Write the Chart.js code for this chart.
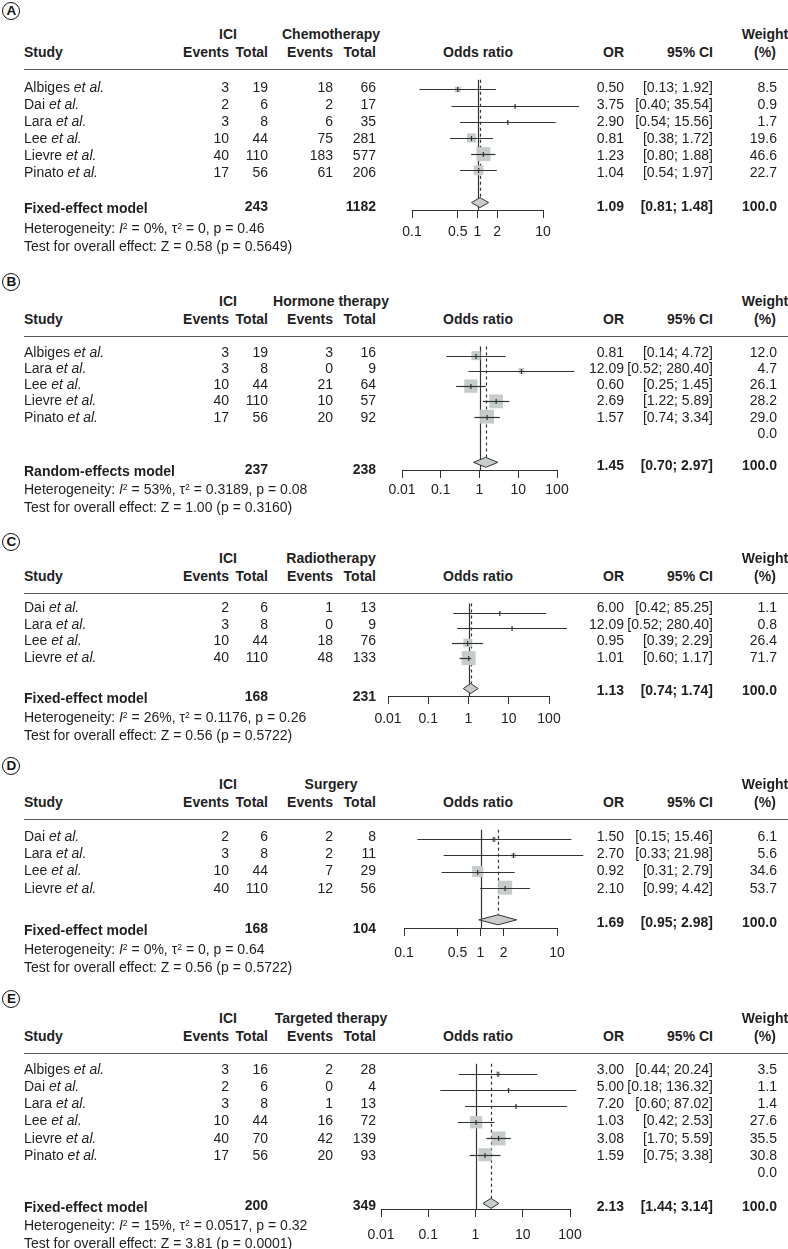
<!DOCTYPE html>
<html>
<head>
<meta charset="utf-8">
<script src="https://cdn.jsdelivr.net/npm/chart.js@4.4.1/dist/chart.umd.min.js"></script>
<style>
body { margin: 0; background: #fff; }
#page { position: relative; width: 788px; height: 1249px; overflow: hidden; font-family: "Liberation Sans", Arial, Helvetica, sans-serif; font-size: 14px; color: #1f1f1f; }
#page canvas { position: absolute; left: 0; }
.t { position: absolute; white-space: nowrap; line-height: 1; }
.b { font-weight: bold; }
.rule { position: absolute; left: 24px; right: 0; height: 0; border-top: 1.6px solid #5a5a5a; }
.tag { position: absolute; width: 16px; height: 16px; border: 1.6px solid #111; border-radius: 50%; font-weight: bold; font-size: 13.5px; line-height: 16px; text-align: center; color: #111; }
sup { font-size: 0.62em; position: relative; top: -0.45em; vertical-align: baseline; line-height: 0; }
</style>
</head>
<body>
<div id="page"></div>
<script>
// A: ICI vs chemotherapy
const chemoStudies = ['Albiges', 'Dai', 'Lara', 'Lee', 'Lievre', 'Pinato'];
const chemoIciEvents = [3, 2, 3, 10, 40, 17];
const chemoIciTotal = [19, 6, 8, 44, 110, 56];
const chemoCtrlEvents = [18, 2, 6, 75, 183, 61];
const chemoCtrlTotal = [66, 17, 35, 281, 577, 206];
const chemoOR = [0.50, 3.75, 2.90, 0.81, 1.23, 1.04];
const chemoLower = [0.13, 0.40, 0.54, 0.38, 0.80, 0.54];
const chemoUpper = [1.92, 35.54, 15.56, 1.72, 1.88, 1.97];
const chemoWeight = [8.5, 0.9, 1.7, 19.6, 46.6, 22.7];
const chemoPooled = [1.09, 0.81, 1.48];
const chemoTotals = [243, 1182];
const chemoHet = ['0%', '0', '0.46'];
const chemoTest = ['0.58', '0.5649'];
const chemoTicks = [0.1, 0.5, 1, 2, 10];

// B: ICI vs hormone therapy (last row is an empty study)
const hormoneStudies = ['Albiges', 'Lara', 'Lee', 'Lievre', 'Pinato', ''];
const hormoneIciEvents = [3, 3, 10, 40, 17, null];
const hormoneIciTotal = [19, 8, 44, 110, 56, null];
const hormoneCtrlEvents = [3, 0, 21, 10, 20, null];
const hormoneCtrlTotal = [16, 9, 64, 57, 92, null];
const hormoneOR = [0.81, 12.09, 0.60, 2.69, 1.57, null];
const hormoneLower = [0.14, 0.52, 0.25, 1.22, 0.74, null];
const hormoneUpper = [4.72, 280.40, 1.45, 5.89, 3.34, null];
const hormoneWeight = [12.0, 4.7, 26.1, 28.2, 29.0, 0.0];
const hormonePooled = [1.45, 0.70, 2.97];
const hormoneTotals = [237, 238];
const hormoneHet = ['53%', '0.3189', '0.08'];
const hormoneTest = ['1.00', '0.3160'];
const hormoneTicks = [0.01, 0.1, 1, 10, 100];

// C: ICI vs radiotherapy
const radioStudies = ['Dai', 'Lara', 'Lee', 'Lievre'];
const radioIciEvents = [2, 3, 10, 40];
const radioIciTotal = [6, 8, 44, 110];
const radioCtrlEvents = [1, 0, 18, 48];
const radioCtrlTotal = [13, 9, 76, 133];
const radioOR = [6.00, 12.09, 0.95, 1.01];
const radioLower = [0.42, 0.52, 0.39, 0.60];
const radioUpper = [85.25, 280.40, 2.29, 1.17];
const radioWeight = [1.1, 0.8, 26.4, 71.7];
const radioPooled = [1.13, 0.74, 1.74];
const radioTotals = [168, 231];
const radioHet = ['26%', '0.1176', '0.26'];
const radioTest = ['0.56', '0.5722'];
const radioTicks = [0.01, 0.1, 1, 10, 100];

// D: ICI vs surgery
const surgeryStudies = ['Dai', 'Lara', 'Lee', 'Lievre'];
const surgeryIciEvents = [2, 3, 10, 40];
const surgeryIciTotal = [6, 8, 44, 110];
const surgeryCtrlEvents = [2, 2, 7, 12];
const surgeryCtrlTotal = [8, 11, 29, 56];
const surgeryOR = [1.50, 2.70, 0.92, 2.10];
const surgeryLower = [0.15, 0.33, 0.31, 0.99];
const surgeryUpper = [15.46, 21.98, 2.79, 4.42];
const surgeryWeight = [6.1, 5.6, 34.6, 53.7];
const surgeryPooled = [1.69, 0.95, 2.98];
const surgeryTotals = [168, 104];
const surgeryHet = ['0%', '0', '0.64'];
const surgeryTest = ['0.56', '0.5722'];
const surgeryTicks = [0.1, 0.5, 1, 2, 10];

// E: ICI vs targeted therapy (last row is an empty study)
const targetedStudies = ['Albiges', 'Dai', 'Lara', 'Lee', 'Lievre', 'Pinato', ''];
const targetedIciEvents = [3, 2, 3, 10, 40, 17, null];
const targetedIciTotal = [16, 6, 8, 44, 70, 56, null];
const targetedCtrlEvents = [2, 0, 1, 16, 42, 20, null];
const targetedCtrlTotal = [28, 4, 13, 72, 139, 93, null];
const targetedOR = [3.00, 5.00, 7.20, 1.03, 3.08, 1.59, null];
const targetedLower = [0.44, 0.18, 0.60, 0.42, 1.70, 0.75, null];
const targetedUpper = [20.24, 136.32, 87.02, 2.53, 5.59, 3.38, null];
const targetedWeight = [3.5, 1.1, 1.4, 27.6, 35.5, 30.8, 0.0];
const targetedPooled = [2.13, 1.44, 3.14];
const targetedTotals = [200, 349];
const targetedHet = ['15%', '0.0517', '0.32'];
const targetedTest = ['3.81', '0.0001'];
const targetedTicks = [0.01, 0.1, 1, 10, 100];

const panels = [
  { tag: 'A', ctrl: 'Chemotherapy', model: 'Fixed-effect model', studies: chemoStudies, iciEv: chemoIciEvents, iciTot: chemoIciTotal,
    ctrlEv: chemoCtrlEvents, ctrlTot: chemoCtrlTotal, or: chemoOR, lo: chemoLower, hi: chemoUpper, w: chemoWeight,
    pooled: chemoPooled, totals: chemoTotals, het: chemoHet, test: chemoTest, ticks: chemoTicks,
    pos: { circle: 12, rule: 69, row0: 87, sum: 206, label: 208, het: 228, axis: 214, gap: 16, xl: 412, xr: 543 } },
  { tag: 'B', ctrl: 'Hormone therapy', model: 'Random-effects model', studies: hormoneStudies, iciEv: hormoneIciEvents, iciTot: hormoneIciTotal,
    ctrlEv: hormoneCtrlEvents, ctrlTot: hormoneCtrlTotal, or: hormoneOR, lo: hormoneLower, hi: hormoneUpper, w: hormoneWeight,
    pooled: hormonePooled, totals: hormoneTotals, het: hormoneHet, test: hormoneTest, ticks: hormoneTicks,
    pos: { circle: 283, rule: 336, row0: 352, sum: 465, label: 471, het: 489, axis: 474, gap: 13, xl: 402, xr: 557 } },
  { tag: 'C', ctrl: 'Radiotherapy', model: 'Fixed-effect model', studies: radioStudies, iciEv: radioIciEvents, iciTot: radioIciTotal,
    ctrlEv: radioCtrlEvents, ctrlTot: radioCtrlTotal, or: radioOR, lo: radioLower, hi: radioUpper, w: radioWeight,
    pooled: radioPooled, totals: radioTotals, het: radioHet, test: radioTest, ticks: radioTicks,
    pos: { circle: 543, rule: 593, row0: 607, sum: 690, label: 698, het: 717, axis: 699, gap: 16, xl: 388, xr: 549 } },
  { tag: 'D', ctrl: 'Surgery', model: 'Fixed-effect model', studies: surgeryStudies, iciEv: surgeryIciEvents, iciTot: surgeryIciTotal,
    ctrlEv: surgeryCtrlEvents, ctrlTot: surgeryCtrlTotal, or: surgeryOR, lo: surgeryLower, hi: surgeryUpper, w: surgeryWeight,
    pooled: surgeryPooled, totals: surgeryTotals, het: surgeryHet, test: surgeryTest, ticks: surgeryTicks,
    pos: { circle: 767, rule: 819, row0: 836, sum: 922, label: 930, het: 949, axis: 931, gap: 18, xl: 404, xr: 557 } },
  { tag: 'E', ctrl: 'Targeted therapy', model: 'Fixed-effect model', studies: targetedStudies, iciEv: targetedIciEvents, iciTot: targetedIciTotal,
    ctrlEv: targetedCtrlEvents, ctrlTot: targetedCtrlTotal, or: targetedOR, lo: targetedLower, hi: targetedUpper, w: targetedWeight,
    pooled: targetedPooled, totals: targetedTotals, het: targetedHet, test: targetedTest, ticks: targetedTicks,
    pos: { circle: 1000, rule: 1053, row0: 1069, sum: 1206, label: 1207, het: 1225, axis: 1212, gap: 20, xl: 381, xr: 570 } }
];

// column x positions (right edges for numbers)
const COL = { study: 24, iciEv: 229, iciTot: 268, ctrlEv: 333, ctrlTot: 376, iciHead: 228, ctrlHead: 331,
              odds: 478, or: 624, ci: 713, wt: 777, wtHead: 765 };
const FONT = '"Liberation Sans", Arial, Helvetica, sans-serif';
const BOX = 14;          // side of the biggest square, px
const INK = '#333';

const page = document.getElementById('page');

function put(html, x, y, align, bold) {
  const el = document.createElement('div');
  el.className = 't' + (bold ? ' b' : '');
  el.innerHTML = html;
  el.style.top = y + 'px';
  if (align === 'right') {
    el.style.right = (788 - x) + 'px';
    el.style.transform = 'translateY(-50%)';
  } else if (align === 'center') {
    el.style.left = x + 'px';
    el.style.transform = 'translate(-50%,-50%)';
  } else {
    el.style.left = x + 'px';
    el.style.transform = 'translateY(-50%)';
  }
  page.appendChild(el);
}

const f2 = v => v.toFixed(2);

function forestMarks(p, sumIdx, axisIdx) {
  return {
    id: 'forestMarks',
    beforeDatasetsDraw(chart) {
      const { ctx, scales: { x, y } } = chart;
      ctx.save();
      ctx.strokeStyle = INK;
      ctx.lineWidth = 1.2;
      // line of no effect
      const x1 = Math.round(x.getPixelForValue(1)) + 0.5;
      ctx.beginPath();
      ctx.moveTo(x1, y.getPixelForValue(-0.6));
      ctx.lineTo(x1, y.getPixelForValue(axisIdx));
      ctx.stroke();
      // pooled estimate
      const xp = Math.round(x.getPixelForValue(p.pooled[0])) + 0.5;
      ctx.setLineDash([3, 3]);
      ctx.beginPath();
      ctx.moveTo(xp, y.getPixelForValue(-0.6));
      ctx.lineTo(xp, y.getPixelForValue(sumIdx) - 5);
      ctx.stroke();
      ctx.restore();
    },
    afterDatasetsDraw(chart) {
      const { ctx, scales: { x, y } } = chart;
      ctx.save();
      ctx.strokeStyle = INK;
      ctx.lineWidth = 1.2;
      p.or.forEach((v, i) => {
        if (v == null) return;
        const yy = Math.round(y.getPixelForValue(i)) + 0.5;
        ctx.beginPath();
        ctx.moveTo(x.getPixelForValue(p.lo[i]), yy);
        ctx.lineTo(x.getPixelForValue(p.hi[i]), yy);
        ctx.stroke();
        const xv = x.getPixelForValue(v);
        ctx.beginPath();
        ctx.moveTo(xv, yy - 2.5);
        ctx.lineTo(xv, yy + 2.5);
        ctx.stroke();
      });
      // summary diamond
      const ys = y.getPixelForValue(sumIdx);
      ctx.beginPath();
      ctx.moveTo(x.getPixelForValue(p.pooled[1]), ys);
      ctx.lineTo(x.getPixelForValue(p.pooled[0]), ys - 5);
      ctx.lineTo(x.getPixelForValue(p.pooled[2]), ys);
      ctx.lineTo(x.getPixelForValue(p.pooled[0]), ys + 5);
      ctx.closePath();
      ctx.fillStyle = '#c8cdcc';
      ctx.fill();
      ctx.lineWidth = 1;
      ctx.stroke();
      ctx.restore();
    }
  };
}

panels.forEach(p => {
  const P = p.pos;
  const n = p.studies.length;
  const sumIdx = n + 1;
  const step = (P.sum - P.row0) / sumIdx;
  const rowY = i => P.row0 + i * step;

  // panel letter
  const tag = document.createElement('div');
  tag.className = 'tag';
  tag.textContent = p.tag;
  tag.style.left = (12 - 9.6) + 'px';
  tag.style.top = (P.circle - 9.6) + 'px';
  page.appendChild(tag);

  // header
  const h1 = P.rule - 35, h2 = P.rule - 17;
  put('ICI', COL.iciHead, h1, 'center', true);
  put(p.ctrl, COL.ctrlHead, h1, 'center', true);
  put('Weight', COL.wtHead, h1, 'center', true);
  put('Study', COL.study, h2, 'left', true);
  put('Events', COL.iciEv, h2, 'right', true);
  put('Total', COL.iciTot, h2, 'right', true);
  put('Events', COL.ctrlEv, h2, 'right', true);
  put('Total', COL.ctrlTot, h2, 'right', true);
  put('Odds ratio', COL.odds, h2, 'center', true);
  put('OR', COL.or, h2, 'right', true);
  put('95% CI', COL.ci, h2, 'right', true);
  put('(%)', COL.wtHead, h2, 'center', true);
  const rule = document.createElement('div');
  rule.className = 'rule';
  rule.style.top = P.rule + 'px';
  page.appendChild(rule);

  // study rows
  p.studies.forEach((s, i) => {
    const y = rowY(i);
    if (s) put(s + ' <i>et al.</i>', COL.study, y, 'left');
    if (p.iciEv[i] != null) {
      put(p.iciEv[i], COL.iciEv, y, 'right');
      put(p.iciTot[i], COL.iciTot, y, 'right');
      put(p.ctrlEv[i], COL.ctrlEv, y, 'right');
      put(p.ctrlTot[i], COL.ctrlTot, y, 'right');
    }
    if (p.or[i] != null) {
      put(f2(p.or[i]), COL.or, y, 'right');
      put('[' + f2(p.lo[i]) + '; ' + f2(p.hi[i]) + ']', COL.ci, y, 'right');
    }
    put(p.w[i].toFixed(1), COL.wt, y, 'right');
  });

  // summary
  put(p.model, COL.study, P.label, 'left', true);
  put(p.totals[0], COL.iciTot, P.label - 2, 'right', true);
  put(p.totals[1], COL.ctrlTot, P.label - 2, 'right', true);
  put(f2(p.pooled[0]), COL.or, P.sum, 'right', true);
  put('[' + f2(p.pooled[1]) + '; ' + f2(p.pooled[2]) + ']', COL.ci, P.sum, 'right', true);
  put('100.0', COL.wt, P.sum, 'right', true);
  put('Heterogeneity: <i>I</i><sup>2</sup> = ' + p.het[0] + ', \u03c4<sup>2</sup> = ' + p.het[1] + ', p = ' + p.het[2],
      COL.study, P.het, 'left');
  put('Test for overall effect: Z = ' + p.test[0] + ' (p = ' + p.test[1] + ')', COL.study, P.het + 18, 'left');

  // plot canvas
  const yMin = -0.9, yMax = sumIdx + 3;
  const top = P.rule - 4;
  const H = Math.ceil(rowY(yMax) + 4 - top);
  const axisIdx = sumIdx + (P.axis - P.sum) / step;
  const cv = document.createElement('canvas');
  cv.width = 788;
  cv.height = H;
  cv.style.top = top + 'px';
  page.insertBefore(cv, page.firstChild);

  const wMax = Math.max(...p.w);
  const pts = [], radii = [];
  p.or.forEach((v, i) => {
    if (v == null) return;
    pts.push({ x: v, y: i });
    radii.push(BOX * Math.sqrt(p.w[i] / wMax) / Math.SQRT2);
  });

  new Chart(cv, {
    type: 'scatter',
    data: {
      datasets: [{
        data: pts,
        pointStyle: 'rect',
        pointRadius: radii,
        backgroundColor: '#c6cccc',
        borderWidth: 0,
        clip: false
      }]
    },
    options: {
      responsive: false,
      animation: false,
      events: [],
      layout: {
        padding: { left: P.xl, right: 788 - P.xr, top: rowY(yMin) - top, bottom: H - (rowY(yMax) - top) }
      },
      plugins: { legend: { display: false }, tooltip: { enabled: false } },
      scales: {
        x: {
          type: 'logarithmic',
          min: p.ticks[0],
          max: p.ticks[p.ticks.length - 1],
          position: { y: axisIdx },
          afterBuildTicks: ax => { ax.ticks = p.ticks.map(v => ({ value: v })); },
          ticks: { autoSkip: false, maxRotation: 0, minRotation: 0, padding: P.gap - 9, color: '#222',
                   font: { family: FONT, size: 14 }, callback: v => String(v) },
          grid: { display: true, drawOnChartArea: false, drawTicks: true, tickLength: 7, color: INK, lineWidth: 1 },
          border: { display: true, color: INK, width: 1 }
        },
        y: { type: 'linear', reverse: true, min: yMin, max: yMax, display: false }
      }
    },
    plugins: [forestMarks(p, sumIdx, axisIdx)]
  });
});
</script>
</body>
</html>
